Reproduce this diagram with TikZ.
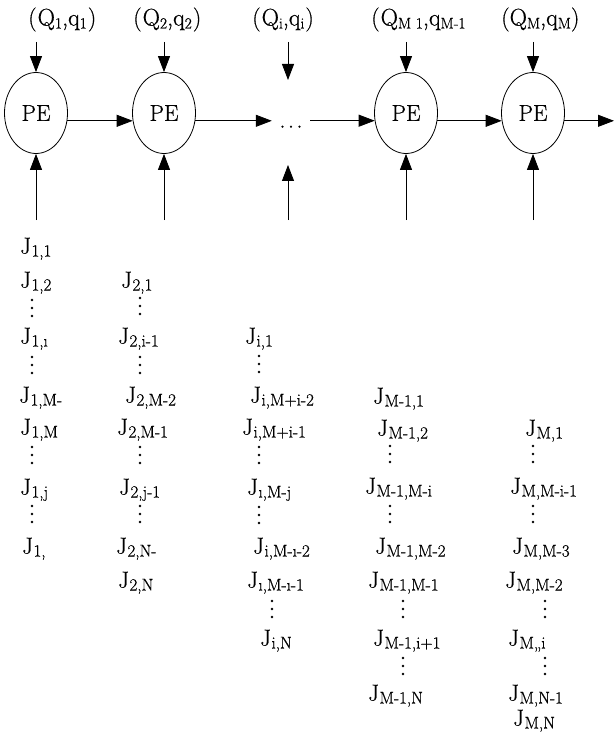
\documentclass[tikz,border=0pt]{standalone}
\usepackage{fontspec}
\setmainfont{Latin Modern Roman}[FakeBold=0.6]
\usetikzlibrary{shapes.geometric,arrows.meta}
\newcommand{\jl}[1]{J\kern0.5pt\raisebox{-3pt}{\fontsize{17}{17}\selectfont #1}}
\newcommand{\sbq}[1]{\raisebox{-3pt}{\fontsize{15.5}{16}\selectfont #1}}
\begin{document}
\begin{tikzpicture}[x=1pt,y=-1pt,
  pe/.style={draw, ellipse, minimum width=63pt, minimum height=81pt, inner sep=0pt, line width=0.8pt, font=\fontsize{23}{24}\selectfont},
  arr/.style={line width=0.8pt, -{Triangle[length=16pt,width=12pt]}},
  jlab/.style={anchor=west, inner sep=0pt, font=\fontsize{23}{24}\selectfont, text height=15pt, text depth=4pt},
  qlab/.style={anchor=west, inner sep=0pt, font=\fontsize{24}{26}\selectfont, text height=16pt, text depth=5pt},
  vdts/.pic={\fill (0,-8) circle (1.4pt); \fill (0,0) circle (1.4pt); \fill (0,8) circle (1.4pt);}
]
\useasboundingbox (0,0) rectangle (615,743);

% top labels
\node[qlab] (q1) at (28,20) {(\kern1pt Q\sbq{1},q\sbq{1}\kern1pt)};
\node[qlab] (q2) at (133,20) {(\kern1pt Q\sbq{2},q\sbq{2}\kern1pt)};
\node[qlab] (qi) at (252,20) {(\kern1pt Q\sbq{i},q\sbq{i}\kern1pt)};
\node[qlab] (qm1) at (371,20) {(\kern1pt Q\sbq{M 1},q\sbq{M-1}};
\node[qlab] (qm) at (501,20) {(Q\sbq{M},q\sbq{M})};

% processing elements
\node[pe] (pe1) at (36,113) {PE};
\node[pe] (pe2) at (164,113) {PE};
\node[inner sep=0pt, minimum width=38pt, minimum height=10pt] (dts) at (291,120.7) {\smash{\raisebox{-7pt}{\fontsize{24}{24}\selectfont .\kern2.5pt.\kern2.5pt.}}};
\node[pe] (pe4) at (406,113) {PE};
\node[pe] (pe5) at (533,113) {PE};

% free ends
\coordinate (t1) at (36,42);  \coordinate (b1) at (36,220);
\coordinate (t2) at (164,42); \coordinate (b2) at (164,220);
\coordinate (t3) at (288,42); \coordinate (t3e) at (288,80);
\coordinate (b3) at (288,220); \coordinate (b3e) at (288,165);
\coordinate (t4) at (406,42); \coordinate (b4) at (406,220);
\coordinate (t5) at (533,42); \coordinate (b5) at (533,220);
\coordinate (out) at (614,121);

% arrows
\draw[arr] (t1) -- (pe1);
\draw[arr] (b1) -- (pe1);
\draw[arr] (t2) -- (pe2);
\draw[arr] (b2) -- (pe2);
\draw[arr] (t3) -- (t3e);
\draw[arr] (b3) -- (b3e);
\draw[arr] (t4) -- (pe4);
\draw[arr] (b4) -- (pe4);
\draw[arr] (t5) -- (pe5);
\draw[arr] (b5) -- (pe5);
\draw[arr] (pe1.-14) -- (pe2.194);
\draw[arr] (pe2.-14) -- (pe2.-14 -| dts.west);
\draw[arr] (dts.east) -- (dts.east -| pe4.194);
\draw[arr] (pe4.-14) -- (pe5.194);
\draw[arr] (pe5.-14) -- (pe5.-14 -| out);

% column 1
\node[jlab] (a1) at (20,248) {\jl{1,1}};
\node[jlab] (a2) at (20,282) {\jl{1,2}};
\pic (av1) at (32,308) {vdts};
\node[jlab] (a3) at (20,338) {\jl{1,\i}};
\pic (av2) at (32,365) {vdts};
\node[jlab] (a4) at (19,397) {\jl{1,M-}};
\node[jlab] (a5) at (20,429) {\jl{1,M}};
\pic (av3) at (32,455) {vdts};
\node[jlab] (a6) at (20,489) {\jl{1,j}};
\pic (av4) at (32,514) {vdts};
\node[jlab] (a7) at (22,548) {\jl{1,}};

% column 2
\node[jlab] (b1n) at (121,282) {\jl{2,1}};
\pic (bv1) at (140,306) {vdts};
\node[jlab] (b2n) at (118,338) {\jl{2,i-1}};
\pic (bv2) at (140,365) {vdts};
\node[jlab] (b3n) at (125,397) {\jl{2,M-2}};
\node[jlab] (b4n) at (117,429) {\jl{2,M-1}};
\pic (bv3) at (140,455) {vdts};
\node[jlab] (b5n) at (119,489) {\jl{2,j-1}};
\pic (bv4) at (140,514) {vdts};
\node[jlab] (b6n) at (116,548) {\jl{2,N-}};
\node[jlab] (b7n) at (118,582) {\jl{2,N}};

% column 3
\node[jlab] (c1) at (245,338) {\jl{i,1}};
\pic (cv1) at (259,364) {vdts};
\node[jlab] (c2) at (250,397) {\jl{i,M+i-2}};
\node[jlab] (c3) at (242,429) {\jl{i,M+i-1}};
\pic (cv2) at (259,455) {vdts};
\node[jlab] (c4) at (247,489) {\jl{\i,M-j}};
\pic (cv3) at (259,515) {vdts};
\node[jlab] (c5) at (253,548) {\jl{i,M-\i-2}};
\node[jlab] (c6) at (247,582) {\jl{\i,M-\i-1}};
\pic (cv4) at (272,609) {vdts};
\node[jlab] (c7) at (260,640) {\jl{i,N}};

% column 4
\node[jlab] (d1) at (373,398) {\jl{M-1,1}};
\node[jlab] (d2) at (377,430) {\jl{M-1,2}};
\pic (dv1) at (390,454) {vdts};
\node[jlab] (d3) at (365,488) {\jl{M-1,M-i}};
\pic (dv2) at (390,514) {vdts};
\node[jlab] (d4) at (375,548) {\jl{M-1,M-2}};
\node[jlab] (d5) at (368,582) {\jl{M-1,M-1}};
\pic (dv3) at (403,609) {vdts};
\node[jlab] (d6) at (373,640) {\jl{M-1,i+1}};
\pic (dv4) at (403,666) {vdts};
\node[jlab] (d7) at (368,695) {\jl{M-1,N}};

% column 5
\node[jlab] (e1) at (525,430) {\jl{M,1}};
\pic (ev1) at (533,454) {vdts};
\node[jlab] (e2) at (510,488) {\jl{M,M-i-1}};
\pic (ev2) at (533,514) {vdts};
\node[jlab] (e3) at (512,548) {\jl{M,M-3}};
\node[jlab] (e4) at (505,582) {\jl{M,M-2}};
\pic (ev3) at (545,609) {vdts};
\node[jlab] (e5) at (508,640) {\jl{M,,i}};
\pic (ev4) at (545,666) {vdts};
\node[jlab] (e6) at (508,695) {\jl{M,N-1}};
\node[jlab] (e7) at (513,720) {\jl{M,N}};
\end{tikzpicture}
\end{document}
